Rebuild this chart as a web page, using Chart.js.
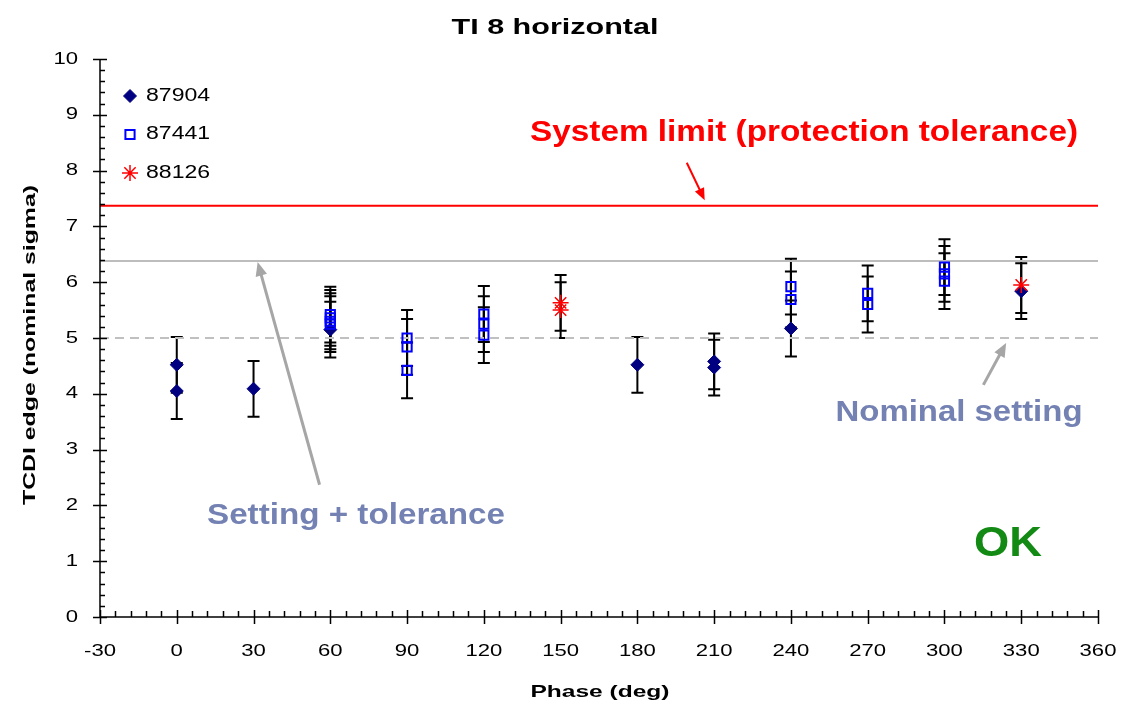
<!DOCTYPE html>
<html>
<head>
<meta charset="utf-8">
<title>TI 8 horizontal</title>
<script src="https://cdn.jsdelivr.net/npm/chart.js@4"></script>
<style>
  html, body { margin: 0; padding: 0; background: #fff; }
  #wrap { width: 1124px; height: 708px; }
</style>
</head>
<body>
<div id="wrap"><canvas id="tcdi"></canvas></div>
<script>
// phase (deg) and TCDI edge (nominal sigma) per fill
const phase87904 = [0, 0, 30, 60, 180, 210, 210, 240, 330];
const edge87904  = [4.52, 4.05, 4.09, 5.15, 4.52, 4.58, 4.47, 5.17, 5.84];
const err87904   = [0.5, 0.5, 0.5, 0.5, 0.5, 0.5, 0.5, 0.5, 0.5];

const phase87441 = [60, 60, 60, 60, 90, 90, 90, 120, 120, 120, 240, 240, 270, 270, 300, 300, 300];
const edge87441  = [5.25, 5.3, 5.36, 5.42, 5.0, 4.84, 4.42, 5.43, 5.25, 5.05, 5.92, 5.69, 5.8, 5.6, 6.27, 6.15, 6.02];
const err87441   = [0.5, 0.5, 0.5, 0.5, 0.5, 0.5, 0.5, 0.5, 0.5, 0.5, 0.5, 0.5, 0.5, 0.5, 0.5, 0.5, 0.5];

const phase88126 = [150, 150, 330];
const edge88126  = [5.63, 5.5, 5.95];
const err88126   = [0.5, 0.5, 0.5];

const systemLimit = 7.37;
const settingTolerance = 6.38;
const nominalSetting = 5.0;

const xRange = [-30, 360];
const yRange = [0, 10];
const xTicks = [-30, 0, 30, 60, 90, 120, 150, 180, 210, 240, 270, 300, 330, 360];
const yTicks = [0, 1, 2, 3, 4, 5, 6, 7, 8, 9, 10];

function pts(xs, ys) {
  return xs.map((x, i) => ({ x: x, y: ys[i] }));
}
function hline(v) {
  return [{ x: xRange[0], y: v }, { x: xRange[1], y: v }];
}

const FONT = '"Liberation Sans", Arial, sans-serif';

// the original is a stretched excel bitmap, so text is widened
function wideText(ctx, text, x, y, font, stretch, align) {
  ctx.save();
  ctx.font = font;
  ctx.textBaseline = 'middle';
  ctx.textAlign = 'left';
  const w = ctx.measureText(text).width * stretch;
  let left = x;
  if (align === 'center') left = x - w / 2;
  else if (align === 'right') left = x - w;
  ctx.translate(left, y);
  ctx.scale(stretch, 1);
  ctx.fillText(text, 0, 0);
  ctx.restore();
}
function fitText(ctx, text, cx, cy, font, width) {
  ctx.save();
  ctx.font = font;
  const s = width / ctx.measureText(text).width;
  ctx.restore();
  wideText(ctx, text, cx, cy, font, s, 'center');
}

// error bars, drawn under the markers
const errorBars = {
  id: 'errorBars',
  beforeDatasetsDraw(chart) {
    const ctx = chart.ctx, xs = chart.scales.x, ys = chart.scales.y;
    ctx.save();
    ctx.strokeStyle = '#000';
    ctx.lineWidth = 2;
    chart.data.datasets.forEach(ds => {
      if (!ds.errors) return;
      ds.data.forEach((p, i) => {
        const e = ds.errors[i];
        const px = xs.getPixelForValue(p.x);
        const top = ys.getPixelForValue(p.y + e);
        const bot = ys.getPixelForValue(p.y - e);
        ctx.beginPath();
        ctx.moveTo(px, top); ctx.lineTo(px, bot);
        ctx.moveTo(px - 6, top); ctx.lineTo(px + 6, top);
        ctx.moveTo(px - 6, bot); ctx.lineTo(px + 6, bot);
        ctx.stroke();
      });
    });
    ctx.restore();
  }
};

// axis lines with excel-like major/minor ticks and labels
const axisTicks = {
  id: 'axisTicks',
  afterDraw(chart) {
    const ctx = chart.ctx, xs = chart.scales.x, ys = chart.scales.y;
    const a = chart.chartArea;
    ctx.save();
    ctx.strokeStyle = '#000';
    ctx.lineWidth = 1.5;
    ctx.beginPath();
    ctx.moveTo(a.left, a.top); ctx.lineTo(a.left, a.bottom);
    ctx.lineTo(a.right, a.bottom);
    for (let v = yRange[0]; v <= yRange[1] + 1e-9; v += 0.2) {
      const py = Math.round(ys.getPixelForValue(v)) + 0.5;
      const major = Math.abs(v - Math.round(v)) < 1e-6;
      ctx.moveTo(major ? a.left - 7 : a.left, py);
      ctx.lineTo(a.left + (major ? 7 : 5), py);
    }
    for (let v = xRange[0]; v <= xRange[1] + 1e-9; v += 6) {
      const px = Math.round(xs.getPixelForValue(v)) + 0.5;
      const major = Math.abs(v % 30) < 1e-6;
      ctx.moveTo(px, major ? a.bottom + 7 : a.bottom);
      ctx.lineTo(px, a.bottom - (major ? 7 : 6));
    }
    ctx.stroke();
    ctx.fillStyle = '#000';
    yTicks.forEach(v => wideText(ctx, String(v), 78, ys.getPixelForValue(v), '17px ' + FONT, 1.3, 'right'));
    xTicks.forEach(v => wideText(ctx, String(v), xs.getPixelForValue(v), 651, '17px ' + FONT, 1.3, 'center'));
    ctx.restore();
  }
};

function arrow(ctx, x1, y1, x2, y2, color, width, head) {
  const ang = Math.atan2(y2 - y1, x2 - x1);
  ctx.save();
  ctx.strokeStyle = color;
  ctx.fillStyle = color;
  ctx.lineWidth = width;
  ctx.beginPath();
  ctx.moveTo(x1, y1);
  ctx.lineTo(x2 - Math.cos(ang) * head * 0.8, y2 - Math.sin(ang) * head * 0.8);
  ctx.stroke();
  ctx.beginPath();
  ctx.moveTo(x2, y2);
  ctx.lineTo(x2 - head * Math.cos(ang - 0.4), y2 - head * Math.sin(ang - 0.4));
  ctx.lineTo(x2 - head * Math.cos(ang + 0.4), y2 - head * Math.sin(ang + 0.4));
  ctx.closePath();
  ctx.fill();
  ctx.restore();
}

// titles, legend, annotations
const decorations = {
  id: 'decorations',
  afterDraw(chart) {
    const ctx = chart.ctx, xs = chart.scales.x, ys = chart.scales.y;
    const X = v => xs.getPixelForValue(v), Y = v => ys.getPixelForValue(v);
    ctx.save();
    ctx.fillStyle = '#000';
    fitText(ctx, 'TI 8 horizontal', 555, 28, 'bold 22px ' + FONT, 207);
    fitText(ctx, 'Phase (deg)', 600, 692, 'bold 17px ' + FONT, 139);
    ctx.save();
    ctx.translate(30, 345);
    ctx.rotate(-Math.PI / 2);
    fitText(ctx, 'TCDI edge (nominal sigma)', 0, 0, 'bold 17px ' + FONT, 320);
    ctx.restore();

    // legend
    const legend = chart.data.datasets.filter(d => d.errors);
    legend.forEach((ds, i) => {
      const ly = 96 + i * 38.5;
      ctx.save();
      ctx.fillStyle = ds.backgroundColor;
      ctx.strokeStyle = ds.borderColor;
      ctx.lineWidth = ds.borderWidth;
      Chart.helpers.drawPoint(ctx, {
        pointStyle: ds.pointStyle, radius: ds.pointRadius,
        borderWidth: ds.borderWidth, rotation: 0
      }, 130, ly);
      ctx.restore();
      ctx.fillStyle = '#000';
      wideText(ctx, ds.label, 146, ly, '18px ' + FONT, 1.28, 'left');
    });

    ctx.fillStyle = '#ff0000';
    fitText(ctx, 'System limit (protection tolerance)', 804, 133, 'bold 30px ' + FONT, 548);
    arrow(ctx, X(199.3), Y(8.14), X(206.3), Y(7.47), '#ff0000', 2, 13);

    ctx.fillStyle = '#7381b3';
    fitText(ctx, 'Setting + tolerance', 356, 516, 'bold 30px ' + FONT, 298);
    fitText(ctx, 'Nominal setting', 959, 413, 'bold 30px ' + FONT, 247);
    arrow(ctx, X(55.8), Y(2.37), X(31.6), Y(6.36), '#a6a6a6', 3, 15);
    arrow(ctx, X(315.2), Y(4.16), X(324.1), Y(4.91), '#a6a6a6', 3, 15);

    ctx.fillStyle = '#138a13';
    fitText(ctx, 'OK', 1008, 544, 'bold 42px ' + FONT, 68);
    ctx.restore();
  }
};

new Chart(document.getElementById('tcdi'), {
  type: 'scatter',
  data: {
    datasets: [
      { type: 'line', label: 'limit', data: hline(systemLimit), borderColor: '#ff0000', borderWidth: 2, pointRadius: 0, order: 5 },
      { type: 'line', label: 'tol', data: hline(settingTolerance), borderColor: '#bdbdbd', borderWidth: 2, pointRadius: 0, order: 5 },
      { type: 'line', label: 'nominal', data: hline(nominalSetting), borderColor: '#c0c0c0', borderWidth: 2, borderDash: [9, 6], pointRadius: 0, order: 5 },
      { label: '87904', data: pts(phase87904, edge87904), errors: err87904, pointStyle: 'rectRot', pointRadius: 6.5, backgroundColor: '#000080', borderColor: '#000080', borderWidth: 1, order: 3 },
      { label: '87441', data: pts(phase87441, edge87441), errors: err87441, pointStyle: 'rect', pointRadius: 6.5, backgroundColor: 'rgba(0,0,0,0)', borderColor: '#0000ff', borderWidth: 2, order: 2 },
      { label: '88126', data: pts(phase88126, edge88126), errors: err88126, pointStyle: 'star', pointRadius: 8, backgroundColor: '#ff0000', borderColor: '#ff0000', borderWidth: 1.5, order: 1 }
    ]
  },
  options: {
    responsive: true,
    maintainAspectRatio: false,
    animation: false,
    layout: { padding: { left: 0, top: 59, right: 26, bottom: 0 } },
    plugins: { legend: { display: false }, tooltip: { enabled: false }, title: { display: false } },
    scales: {
      x: {
        type: 'linear', min: xRange[0], max: xRange[1],
        afterFit(s) { s.height = 91; },
        grid: { display: false, drawTicks: false },
        border: { display: false },
        ticks: { display: false, stepSize: 30 }
      },
      y: {
        type: 'linear', min: yRange[0], max: yRange[1],
        afterFit(s) { s.width = 100; },
        grid: { display: false, drawTicks: false },
        border: { display: false },
        ticks: { display: false, stepSize: 1 }
      }
    }
  },
  plugins: [errorBars, axisTicks, decorations]
});
</script>
</body>
</html>
